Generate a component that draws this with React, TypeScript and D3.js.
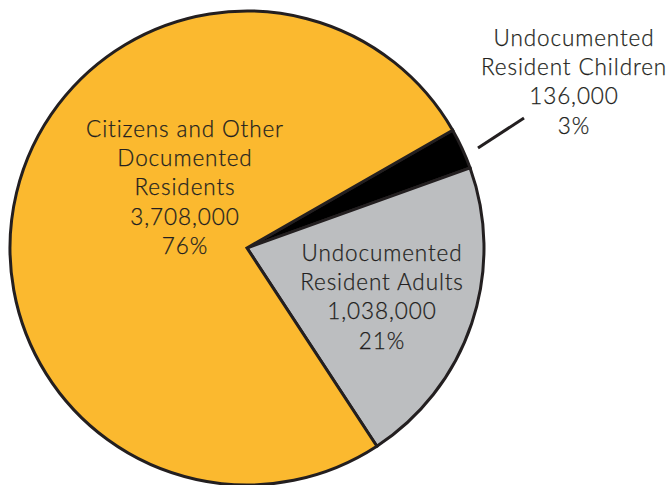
import React from "react";
import * as d3 from "d3";

const categories = ["Undocumented Resident Children", "Undocumented Resident Adults", "Citizens and Other Documented Residents"];
const values = [136000, 1038000, 3708000];
const percents = ["3%", "21%", "76%"];
const labelLines = [
  ["Undocumented", "Resident Children"],
  ["Undocumented", "Resident Adults"],
  ["Citizens and Other", "Documented", "Residents"],
];
const colors = ["#000000", "#BCBEC0", "#FBB92F"];

const W = 671, H = 485;
const cx = 247, cy = 248, R = 237;
const labelPos = [
  { x: 574, y: 46 },
  { x: 382, y: 261 },
  { x: 185, y: 137 },
];
const lineH = 29.2;

export default function App() {
  const pie = d3.pie<number>().sort(null).value((d) => d).startAngle((60.2 * Math.PI) / 180).endAngle((60.2 * Math.PI) / 180 + 2 * Math.PI);
  const arcs = pie(values);
  const arcGen = d3.arc<d3.PieArcDatum<number>>().innerRadius(0).outerRadius(R);
  const fmt = d3.format(",");
  return (
    <svg width={W} height={H} style={{ position: "absolute", left: 0, top: 0, background: "#fff" }}>
      <g transform={`translate(${cx},${cy})`}>
        {arcs.map((a, i) => (
          <path key={i} d={arcGen(a) || ""} fill={colors[i]} stroke="#231F20" strokeWidth={3} strokeLinejoin="miter" />
        ))}
      </g>
      <line x1={478} y1={148} x2={524} y2={118} stroke="#231F20" strokeWidth={3} />
      {categories.map((c, i) => {
        const lines = [...labelLines[i], fmt(values[i]), percents[i]];
        return (
          <text key={c} x={labelPos[i].x} y={labelPos[i].y} textAnchor="middle" fontFamily="Lato" fontWeight={300} fontSize={22.5} letterSpacing={0.9} fill="#231F20" stroke="#231F20" strokeWidth={0.25}>
            {lines.map((l, j) => (
              <tspan key={j} x={labelPos[i].x} y={labelPos[i].y + j * lineH}>{l}</tspan>
            ))}
          </text>
        );
      })}
    </svg>
  );
}
